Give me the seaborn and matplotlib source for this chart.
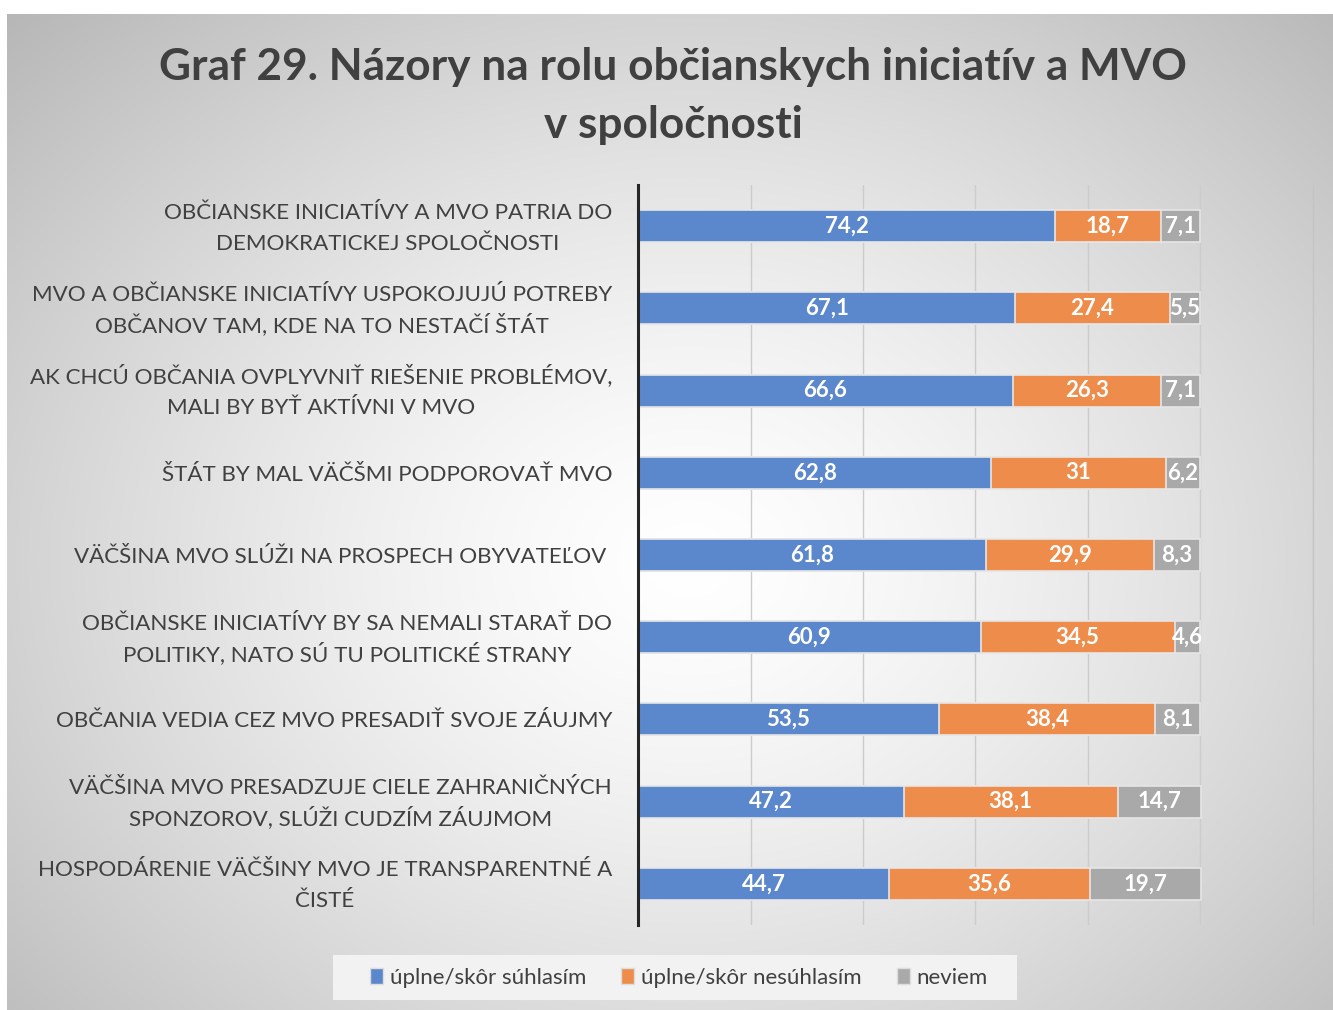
import numpy as np
import pandas as pd
import matplotlib.pyplot as plt
import seaborn as sns
from matplotlib.patches import Patch, Rectangle

categories = [
    "OBČIANSKE INICIATÍVY A MVO PATRIA DO\nDEMOKRATICKEJ SPOLOČNOSTI",
    "MVO A OBČIANSKE INICIATÍVY USPOKOJUJÚ POTREBY\nOBČANOV TAM, KDE NA TO NESTAČÍ ŠTÁT",
    "AK CHCÚ OBČANIA OVPLYVNIŤ RIEŠENIE PROBLÉMOV,\nMALI BY BYŤ AKTÍVNI V MVO",
    "ŠTÁT BY MAL VÄČŠMI PODPOROVAŤ MVO",
    "VÄČŠINA MVO SLÚŽI NA PROSPECH OBYVATEĽOV ",
    "OBČIANSKE INICIATÍVY BY SA NEMALI STARAŤ DO\nPOLITIKY, NATO SÚ TU POLITICKÉ STRANY",
    "OBČANIA VEDIA CEZ MVO PRESADIŤ SVOJE ZÁUJMY",
    "VÄČŠINA MVO PRESADZUJE CIELE ZAHRANIČNÝCH\nSPONZOROV, SLÚŽI CUDZÍM ZÁUJMOM",
    "HOSPODÁRENIE VÄČŠINY MVO JE TRANSPARENTNÉ A\nČISTÉ",
]
suhlasim = [74.2, 67.1, 66.6, 62.8, 61.8, 60.9, 53.5, 47.2, 44.7]
nesuhlasim = [18.7, 27.4, 26.3, 31, 29.9, 34.5, 38.4, 38.1, 35.6]
neviem = [7.1, 5.5, 7.1, 6.2, 8.3, 4.6, 8.1, 14.7, 19.7]
series_names = ["úplne/skôr súhlasím", "úplne/skôr nesúhlasím", "neviem"]
colors = ["#5b87cd", "#ee8d4b", "#a9a9a9"]
title = "Graf 29. Názory na rolu občianskych iniciatív a MVO\nv spoločnosti"

df = pd.DataFrame({"cat": categories, "a": suhlasim, "b": nesuhlasim, "c": neviem})
df["cum1"] = df["a"]
df["cum2"] = df["a"] + df["b"]
df["cum3"] = df["a"] + df["b"] + df["c"]

sns.set_theme(style="white")
plt.rcParams["font.family"] = ["Lato", "DejaVu Sans"]

W, H = 1333, 1010
fig = plt.figure(figsize=(W / 100, H / 100), dpi=100)

# background: radial grey gradient panel with a thin white margin
bg = fig.add_axes([0, 0, 1, 1], zorder=-10)
yy, xx = np.mgrid[0:H, 0:W]
r = np.sqrt(((xx - 690) / (W * 0.62)) ** 2 + ((yy - 560) / (H * 0.66)) ** 2)
val = 1 - 0.23 * np.clip(r, 0, 1.2) ** 1.4
img = np.dstack([val] * 3)
img[:14, :] = 1
img[:, :7] = 1
bg.imshow(img, aspect="auto", vmin=0, vmax=1)
bg.axis("off")

ax = fig.add_axes([638 / W, 1 - 925 / H, (1313 - 638) / W, (925 - 185) / H])
ax.patch.set_alpha(0)

for col, c in zip(["cum3", "cum2", "cum1"], colors[::-1]):
    sns.barplot(data=df, y="cat", x=col, color=c, orient="h", width=0.39,
                saturation=1, edgecolor="#e6e6e6", linewidth=1.2, ax=ax)

lefts = [np.zeros(len(df)), df["cum1"].values, df["cum2"].values]
for vals, left in zip([suhlasim, nesuhlasim, neviem], lefts):
    for i, (v, l) in enumerate(zip(vals, left)):
        ax.text(l + v / 2, i, f"{v:g}".replace(".", ","), ha="center", va="center",
                color="white", fontweight="bold", fontsize=16)

ax.set_xlim(0, 120)
ax.set_xticks(range(0, 121, 20))
ax.set_xticklabels([])
ax.set_yticklabels([])
ax.grid(axis="x", color="#cccccc", linewidth=1)
ax.axvline(120, color="#c4c4c4", linewidth=1, clip_on=False, zorder=0)
ax.set_axisbelow(True)
ax.set_xlabel("")
ax.set_ylabel("")
for s in ["top", "right", "bottom"]:
    ax.spines[s].set_visible(False)
ax.spines["left"].set_color("#262626")
ax.spines["left"].set_linewidth(2.2)
ax.tick_params(length=0)

# category labels: block right-aligned at the axis, lines centred in the block
label_fs = 16.1
cap = 0.7165 * label_fs * 100 / 72
line_gap = 31
right_edge = 612
renderer = fig.canvas.get_renderer()
for i, cat in enumerate(categories):
    lines = cat.split("\n")
    widths = []
    for ln in lines:
        t = fig.text(0, 0, ln, fontsize=label_fs)
        widths.append(t.get_window_extent(renderer).width)
        t.remove()
    cx = right_edge - max(widths) / 2
    cy = ax.transData.transform((0, i))[1]
    n = len(lines)
    for k, ln in enumerate(lines):
        base = cy + ((n - 1) / 2 - k) * line_gap - cap / 2
        fig.text(cx / W, base / H, ln, ha="center", va="baseline",
                 fontsize=label_fs, color="#404040")

fig.text(0.505, 1 - 96 / H, title, ha="center", va="center", fontsize=31.8,
         fontweight="bold", color="#404040", linespacing=1.55)

fig.patches.append(Rectangle((333 / W, 1 - 1000 / H), (1017 - 333) / W, 45 / H,
                             transform=fig.transFigure, facecolor="#f2f2f2",
                             edgecolor="none", zorder=-5))
handles = [Patch(facecolor=c, edgecolor="#dddddd") for c in colors]
fig.legend(handles, series_names, loc="center", bbox_to_anchor=(679 / W, 1 - 978 / H),
           ncol=3, frameon=False, fontsize=16, handlelength=0.58, handleheight=0.7,
           handletextpad=0.3, columnspacing=1.6, labelcolor="#404040")

fig.savefig("out.png", dpi=100)
